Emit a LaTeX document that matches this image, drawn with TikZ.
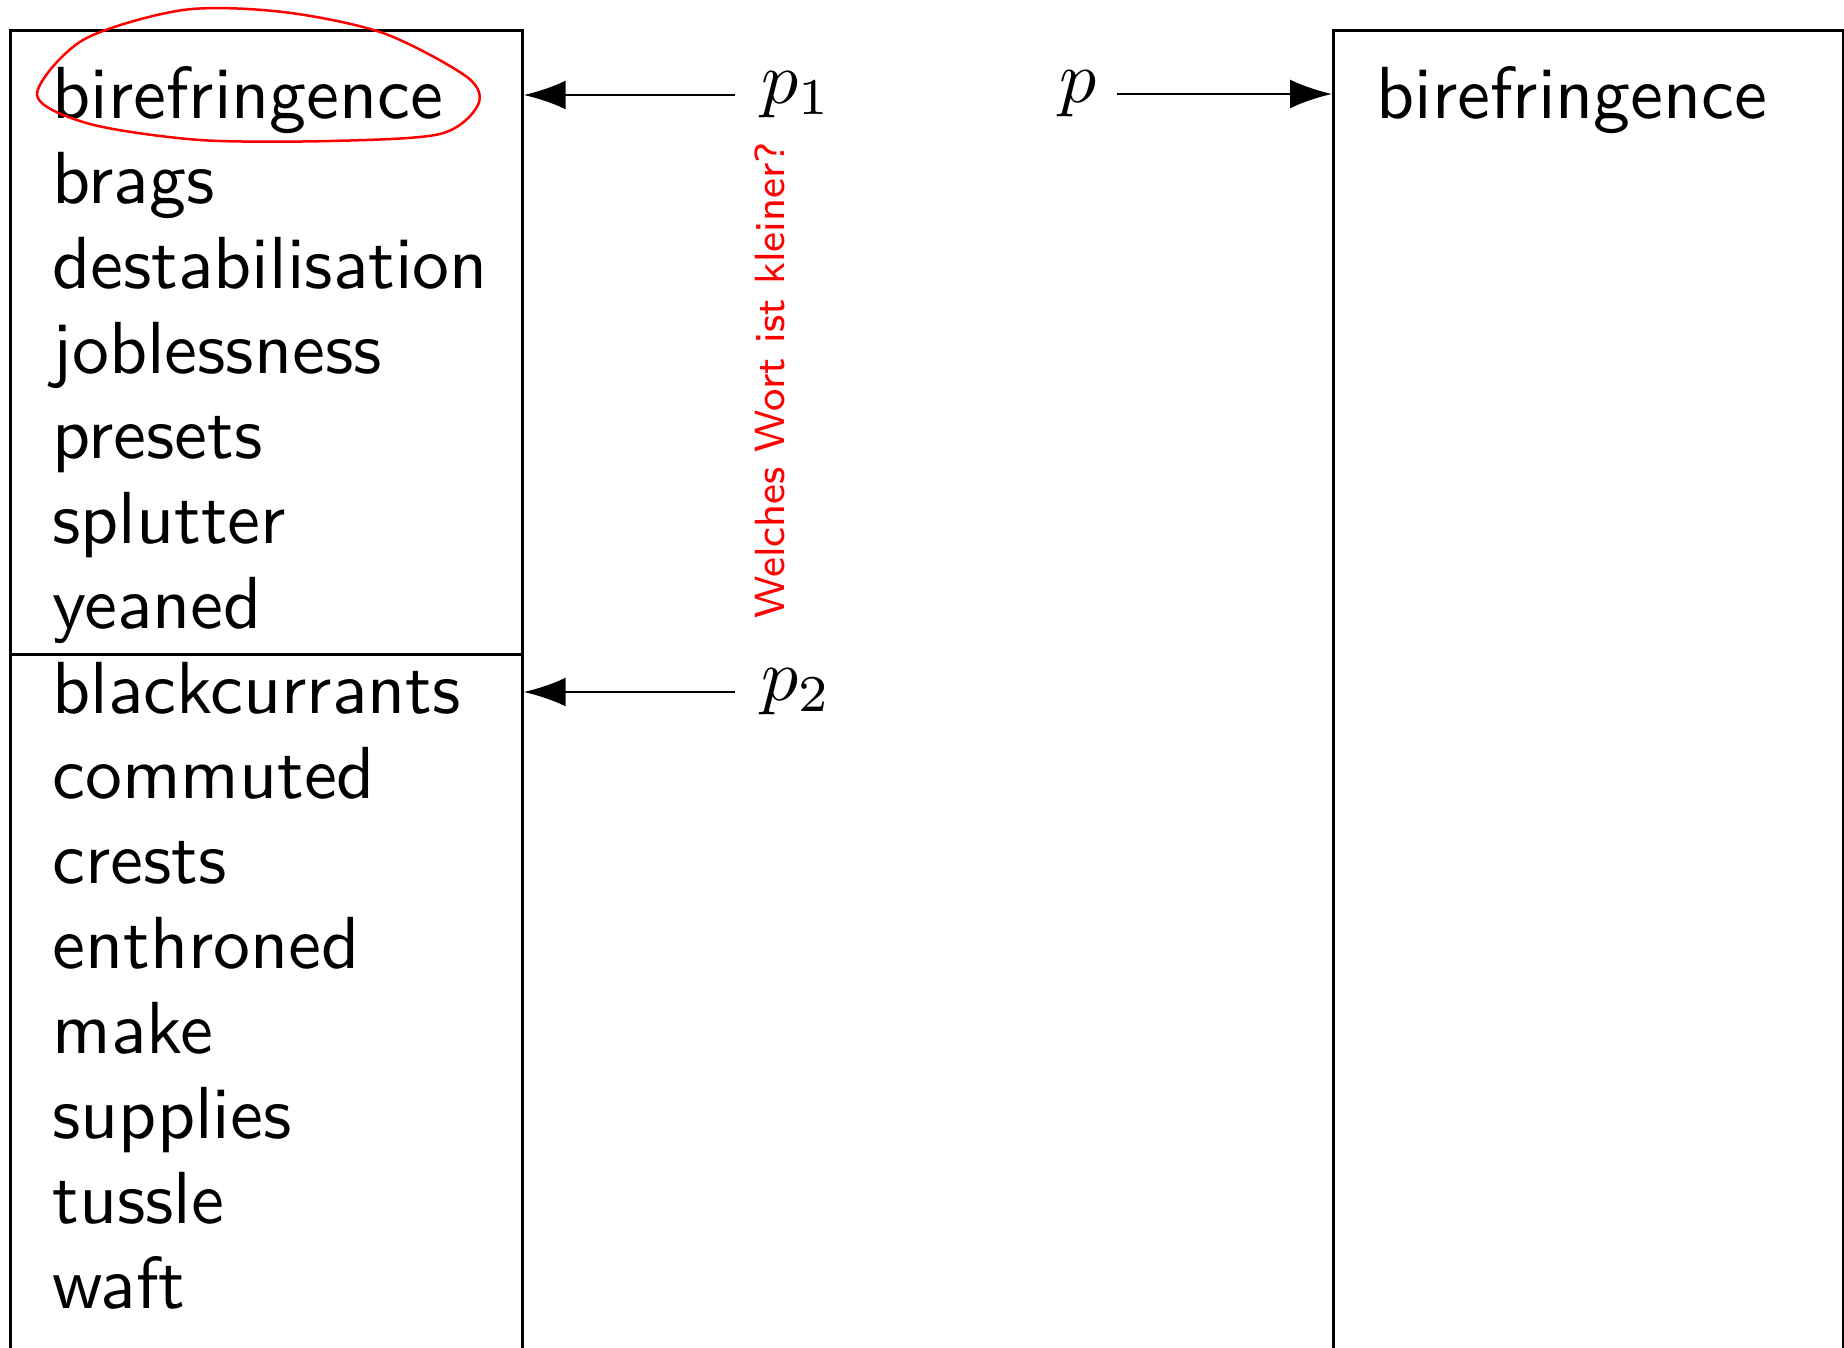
\documentclass[tikz,border=0pt]{standalone}
\usetikzlibrary{arrows.meta}
\tikzset{
  word/.style={anchor=base west, inner sep=0pt, font=\sffamily, scale=2.1},
  listbox/.style={draw, line width=0.027cm, anchor=north west, inner sep=0pt},
  ptr/.style={-{Latex[length=4.2mm,width=2.9mm]}, line width=0.027cm},
  lbl/.style={scale=2.1},
}
\begin{document}
\begin{tikzpicture}
	\useasboundingbox (0,0) rectangle (18.44,-13.48);
	\clip (0,0) rectangle (18.44,-13.48);
	% the two halves and the merged list
	\node[listbox, minimum width=5.12cm, minimum height=6.24cm] (upper) at (0.09,-0.29) {};
	\node[listbox, minimum width=5.12cm, minimum height=7.6cm] (lower) at (0.09,-6.53) {};
	\node[listbox, minimum width=5.10cm, minimum height=13.8cm] (merged) at (13.32,-0.29) {};
	\foreach \w [count=\i from 0] in {birefringence,brags,destabilisation,joblessness,presets,splutter,yeaned,blackcurrants,commuted,crests,enthroned,make,supplies,tussle,waft}
		\node[word] (w\i) at (0.51,-1.18-0.85*\i) {\w};
	\node[word] (out0) at (13.75,-1.18) {birefringence};
	% pointers
	\node[lbl, anchor=west] (p1) at (7.35,-0.95) {$p_1$};
	\node[lbl, anchor=west] (p2) at (7.35,-6.92) {$p_2$};
	\node[lbl, anchor=east, inner sep=2.5pt] (p) at (11.17,-0.94) {$p\vphantom{_1}$};
	\draw[ptr] (p1) -- (p1 -| upper.east);
	\draw[ptr] (p2) -- (p2 -| lower.east);
	\draw[ptr] (p) -- (p -| merged.west);
	% red marks
	\draw[red, line width=0.025cm] plot[smooth cycle] coordinates {(0.37,-0.95) (0.83,-0.40) (1.83,-0.10) (2.83,-0.12) (3.83,-0.33) (4.67,-0.77) (4.78,-1.05) (4.40,-1.34) (3.30,-1.41) (2.00,-1.40) (0.90,-1.24)};
	\node[red, rotate=90, anchor=base west, inner sep=0pt, font=\sffamily\footnotesize, scale=1.5] (ask) at (7.84,-6.20) {Welches Wort ist kleiner?};
\end{tikzpicture}
\end{document}
